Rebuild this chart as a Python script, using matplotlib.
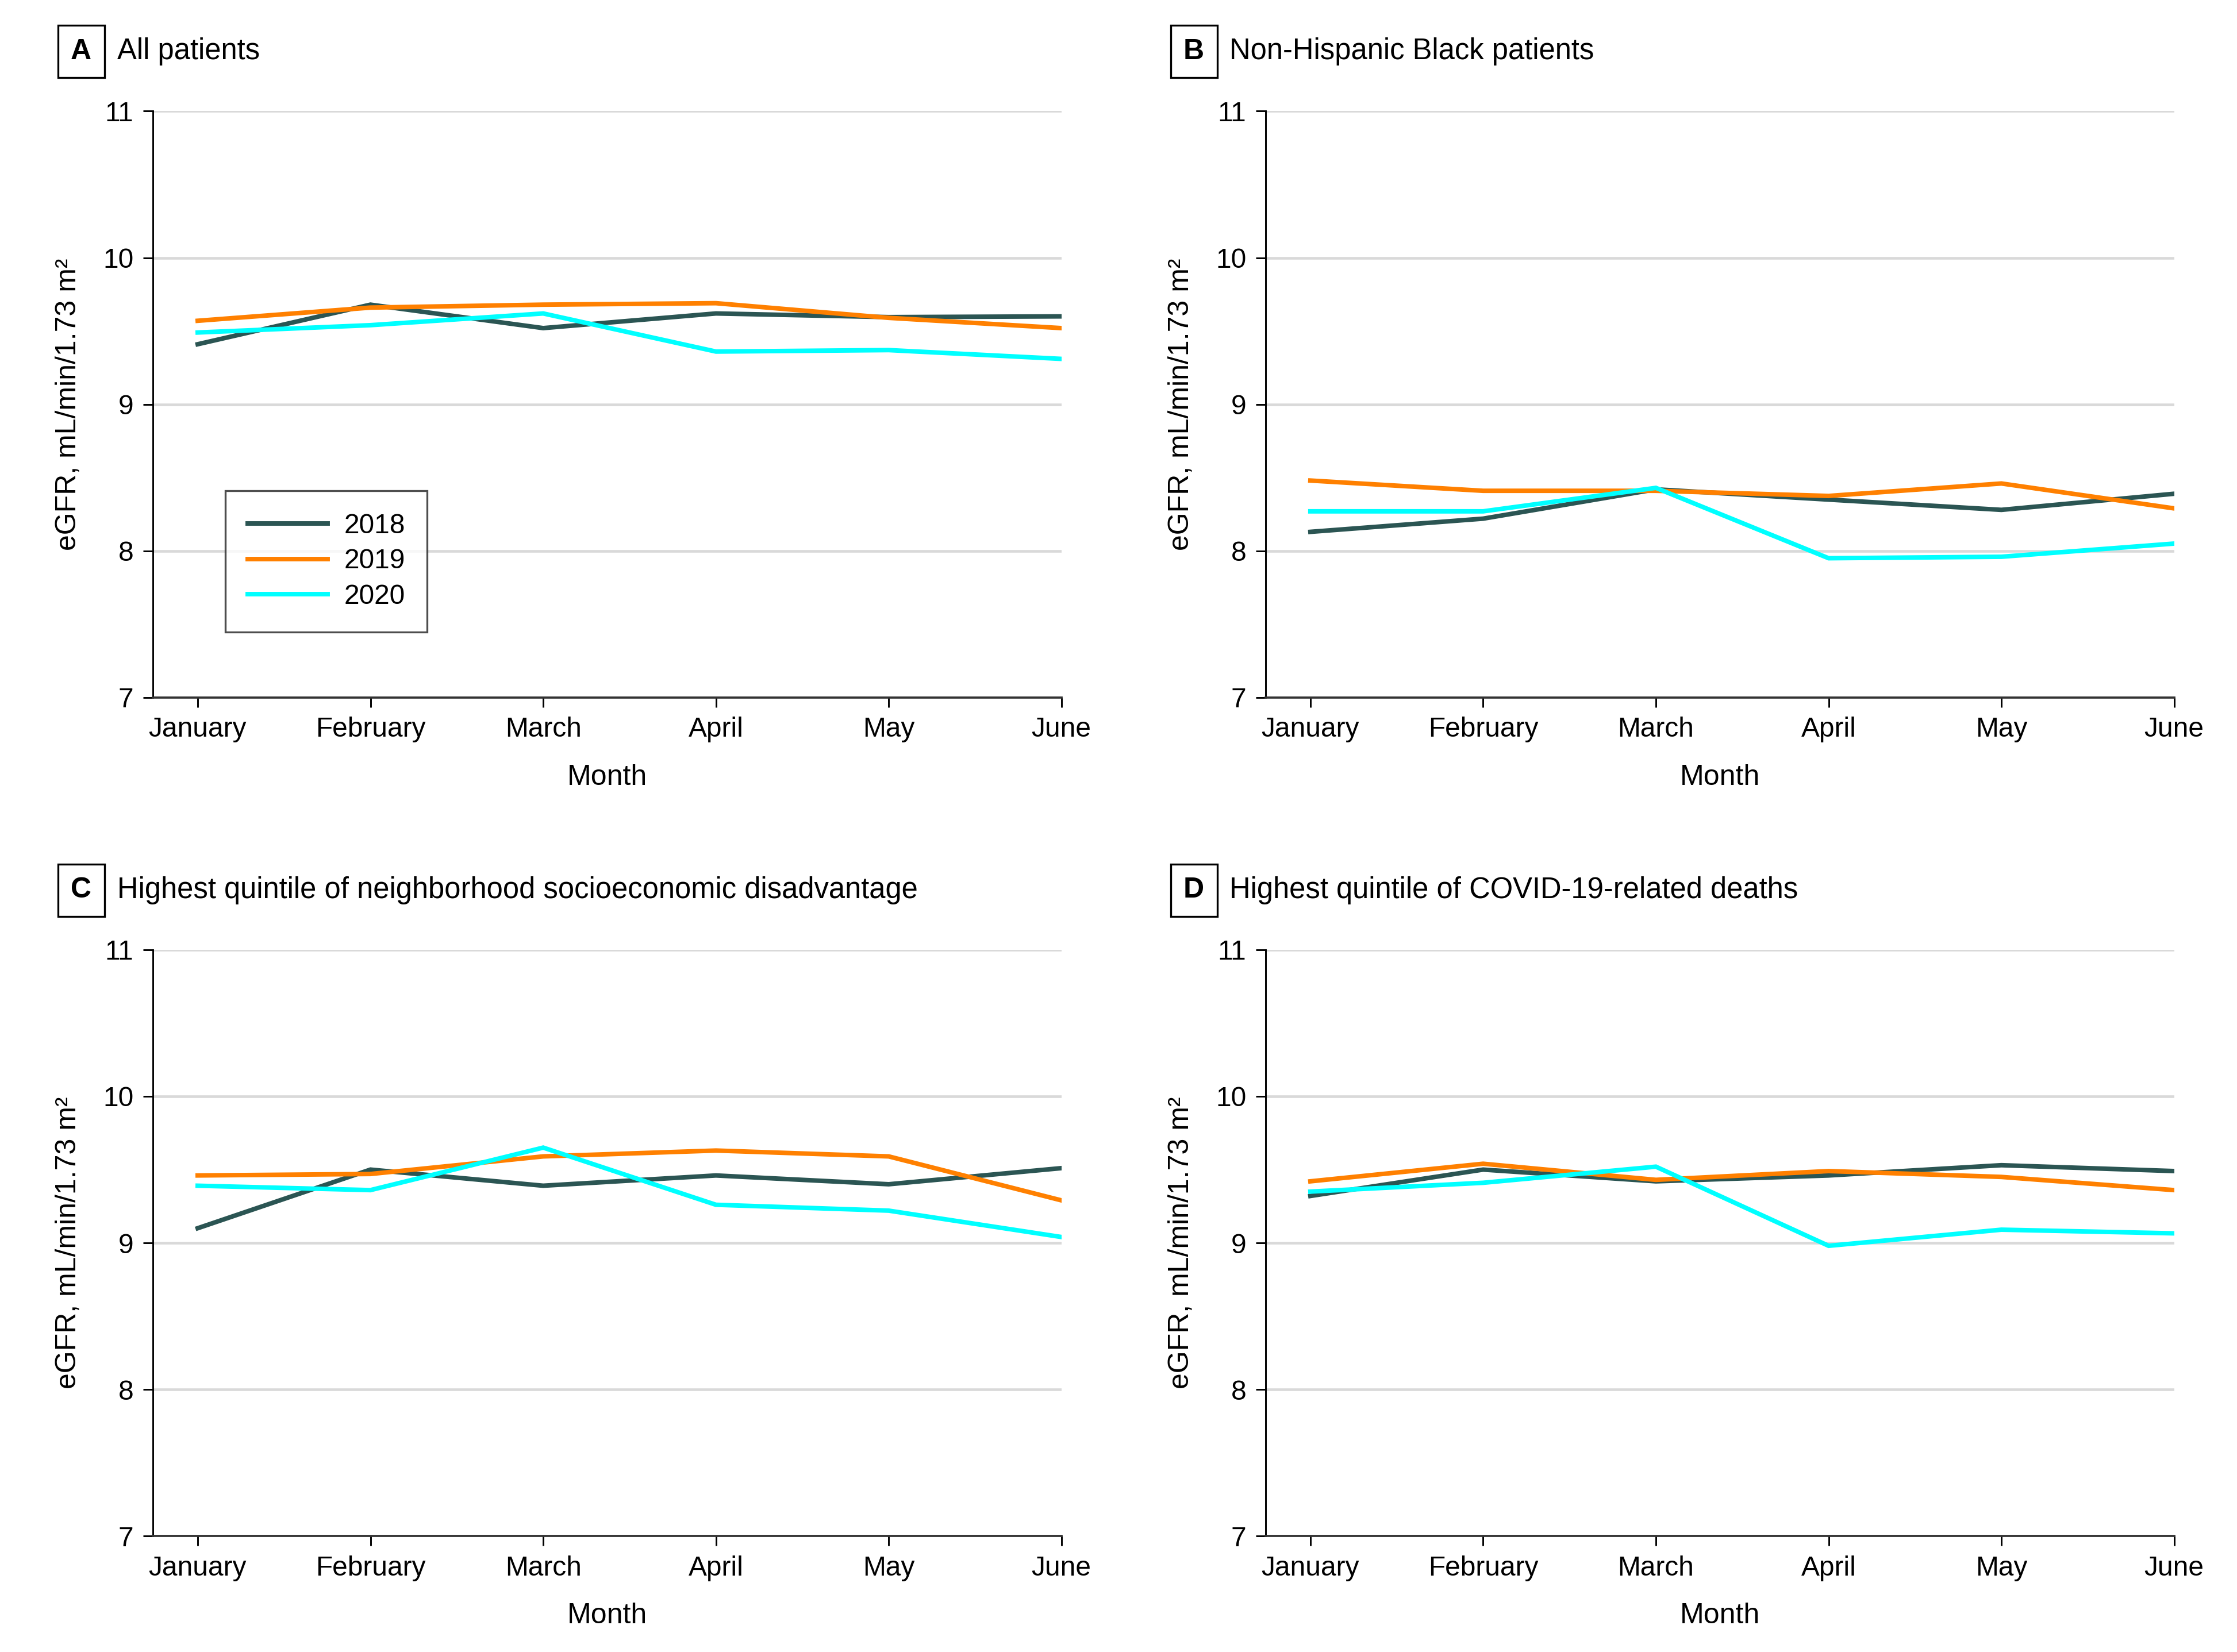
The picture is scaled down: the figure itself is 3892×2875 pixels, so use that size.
import matplotlib
matplotlib.use("Agg")
import matplotlib.pyplot as plt
from matplotlib.lines import Line2D

plt.rcParams["font.family"] = ["Liberation Sans", "DejaVu Sans"]

months = ["January", "February", "March", "April", "May", "June"]
years = ["2018", "2019", "2020"]
colors = {"2018": "#2b5553", "2019": "#ff8000", "2020": "#00ffff"}

# panel A: all patients
a_2018 = [9.41, 9.68, 9.52, 9.62, 9.595, 9.60]
a_2019 = [9.57, 9.66, 9.68, 9.69, 9.59, 9.52]
a_2020 = [9.49, 9.54, 9.62, 9.36, 9.37, 9.31]

# panel B: non-Hispanic Black patients
b_2018 = [8.13, 8.22, 8.42, 8.35, 8.28, 8.39]
b_2019 = [8.48, 8.41, 8.41, 8.375, 8.46, 8.29]
b_2020 = [8.27, 8.27, 8.43, 7.95, 7.96, 8.05]

# panel C: highest quintile of neighborhood disadvantage
c_2018 = [9.10, 9.50, 9.39, 9.46, 9.40, 9.51]
c_2019 = [9.46, 9.47, 9.59, 9.63, 9.59, 9.29]
c_2020 = [9.39, 9.36, 9.65, 9.26, 9.22, 9.04]

# panel D: highest quintile of COVID-19-related deaths
d_2018 = [9.32, 9.50, 9.42, 9.46, 9.53, 9.49]
d_2019 = [9.42, 9.54, 9.43, 9.49, 9.45, 9.36]
d_2020 = [9.35, 9.41, 9.52, 8.98, 9.09, 9.065]

panels = [
    ("A", "All patients", [a_2018, a_2019, a_2020]),
    ("B", "Non-Hispanic Black patients", [b_2018, b_2019, b_2020]),
    ("C", "Highest quintile of neighborhood socioeconomic disadvantage", [c_2018, c_2019, c_2020]),
    ("D", "Highest quintile of COVID-19-related deaths", [d_2018, d_2019, d_2020]),
]

yticks = [7, 8, 9, 10, 11]

fig = plt.figure(figsize=(3892 / 300, 2875 / 300), dpi=300)

lefts = [0.0683, 0.5657]
bottoms = [0.5778, 0.0702]
w = 0.4062
h = 0.3549

for i, (letter, title, series) in enumerate(panels):
    l = lefts[i % 2]
    b = bottoms[i // 2]
    ax = fig.add_axes([l, b, w, h])
    x = list(range(len(months)))
    for yr, vals in zip(years, series):
        ax.plot(x, vals, color=colors[yr], lw=1.9, solid_joinstyle="miter", zorder=3)

    ax.set_xlim(-0.26, 5)
    ax.set_ylim(7, 11)
    ax.set_xticks(x)
    ax.set_xticklabels(months)
    ax.set_yticks(yticks)
    for yv in yticks[1:]:
        ax.axhline(yv, color="#d9d9d9", lw=1.1, zorder=1)
    ax.spines["top"].set_visible(False)
    ax.spines["right"].set_visible(False)
    ax.spines["left"].set_linewidth(0.7)
    ax.spines["bottom"].set_linewidth(0.9)
    ax.spines["bottom"].set_color("#333333")
    ax.tick_params(axis="both", labelsize=11.5, width=0.7, length=4, pad=4)
    ax.set_xlabel("Month", fontsize=12, labelpad=9)
    ax.set_ylabel("eGFR, mL/min/1.73 m²", fontsize=12, labelpad=9)

    # panel label box + title
    fig.text(l - 0.032, b + h + 0.036, letter, fontsize=12, fontweight="bold",
             ha="center", va="center",
             bbox=dict(boxstyle="square,pad=0.45", fc="white", ec="black", lw=0.8))
    fig.text(l - 0.016, b + h + 0.036, title, fontsize=12.2, ha="left", va="center")

    if i == 0:
        handles = [Line2D([], [], color=colors[yr], lw=1.9) for yr in years]
        ax.legend(handles, years, loc="lower left", bbox_to_anchor=(0.08, 0.112),
                  fontsize=11.5, frameon=True, fancybox=False, edgecolor="#222222",
                  handlelength=2.9, handletextpad=0.6, borderpad=0.8,
                  labelspacing=0.35, borderaxespad=0)
        ax.get_legend().get_frame().set_linewidth(0.8)

fig.savefig("out.png", dpi=300, facecolor="white")
